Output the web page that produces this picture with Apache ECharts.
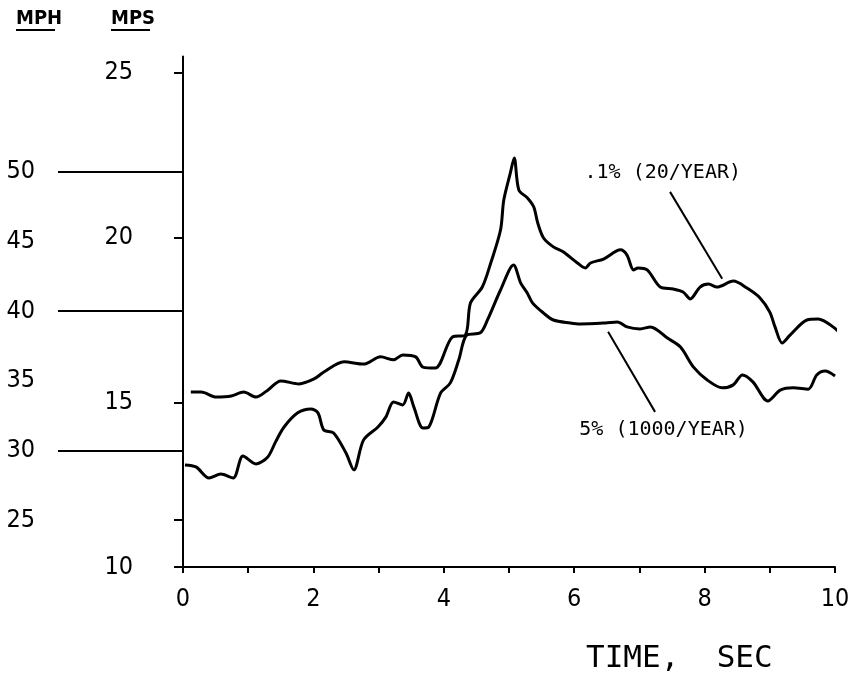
<!DOCTYPE html>
<html><head><meta charset="utf-8">
<script src="https://cdn.jsdelivr.net/npm/echarts@6/dist/echarts.min.js"></script>
<style>html,body{margin:0;padding:0;background:#fff}#c{width:855px;height:699px}</style>
</head><body><div id="c"></div>
<script>
// ---- data (time in s, wind speed in m/s) ----
const seriesNames = ['.1% (20/YEAR)', '5% (1000/YEAR)'];
const timeUpper = [0.12,0.28,0.51,0.74,0.93,1.12,1.30,1.50,1.78,2.01,2.16,2.47,2.77,3.03,3.23,3.37,3.57,3.68,3.87,4.13,4.33,4.41,4.59,4.72,4.87,4.92,5.02,5.08,5.15,5.28,5.38,5.44,5.53,5.68,5.83,6.05,6.17,6.25,6.45,6.71,6.81,6.91,6.98,7.12,7.32,7.52,7.67,7.78,7.93,8.06,8.19,8.44,8.65,8.85,9.00,9.08,9.19,9.31,9.57,9.74,9.97,10.18];
const mpsUpper = [15.31,15.31,15.16,15.19,15.31,15.16,15.37,15.65,15.56,15.71,15.92,16.23,16.16,16.38,16.29,16.44,16.38,16.07,16.04,16.98,17.04,18.02,18.50,19.23,20.23,21.14,21.96,22.42,21.45,21.21,20.93,20.45,19.99,19.72,19.57,19.23,19.08,19.23,19.35,19.63,19.47,19.02,19.08,19.02,18.50,18.44,18.35,18.14,18.50,18.59,18.50,18.68,18.47,18.17,17.74,17.29,16.80,17.04,17.50,17.53,17.29,16.89];
const timeLower = [0.03,0.20,0.40,0.58,0.77,0.92,1.12,1.30,1.42,1.55,1.76,1.96,2.07,2.16,2.31,2.50,2.62,2.77,2.99,3.11,3.23,3.37,3.46,3.54,3.68,3.77,3.95,4.10,4.23,4.35,4.56,4.67,4.87,5.07,5.18,5.28,5.36,5.53,5.68,5.94,6.09,6.48,6.66,6.81,7.01,7.17,7.43,7.63,7.83,8.04,8.27,8.44,8.58,8.74,8.97,9.16,9.36,9.59,9.72,9.85,10.0];
const mpsLower = [13.10,13.04,12.70,12.82,12.70,13.37,13.13,13.34,13.80,14.25,14.68,14.80,14.68,14.16,14.07,13.46,12.95,13.86,14.25,14.55,15.01,14.92,15.28,14.86,14.22,14.25,15.28,15.59,16.29,17.04,17.11,17.50,18.41,19.17,18.62,18.32,18.02,17.71,17.50,17.41,17.38,17.41,17.44,17.29,17.23,17.29,16.95,16.68,16.07,15.68,15.44,15.53,15.83,15.62,15.04,15.37,15.44,15.40,15.83,15.95,15.80];

// ---- tick labels ----
const xTickLabels = [0,2,4,6,8,10];
const xTickMarks = [0,1,2,3,4,5,6,7,8,9,10];
const mpsTickLabels = [10,15,20,25];
const mphTickLabels = [25,30,35,40,45,50];
const mphLongTicks = [30,40,50];
const mphShortTicks = [25];

// ---- annotation anchors (data units: [time, mps]) ----
const labelAnchors = [[6.15, 21.96], [6.07, 14.16]];
const leaderStarts = [[7.47, 21.39], [6.52, 17.14]];
const leaderEnds = [[8.27, 18.75], [7.24, 14.71]];

// MPH scale as drawn on the figure (linear relation to MPS axis)
const MPS_MIN = 10, MPS_MAX = 25.5;
const mphRef = 25, mpsAtRef = 11.427, mpsPerMph = 0.4227;
const mphToMps = m => mpsAtRef + (m - mphRef) * mpsPerMph;
const mpsToMph = s => mphRef + (s - mpsAtRef) / mpsPerMph;

const LBL = "'Liberation Sans Narrow','DejaVu Sans Condensed',sans-serif";
const MONO = "'DejaVu Sans Mono','Liberation Mono',monospace";

const chart = echarts.init(document.getElementById('c'), null, {renderer: 'canvas'});

function mkSeries(idx, times, vals) {
  return {
    name: seriesNames[idx],
    type: 'line',
    xAxisIndex: 0, yAxisIndex: 0,
    data: times.map((t, i) => [t, vals[i]]),
    showSymbol: false,
    smooth: 0.3,
    clip: false,
    lineStyle: {color: '#000', width: 3},
    itemStyle: {color: '#000'},
    silent: true,
    animation: false,
    markLine: {
      silent: true, animation: false,
      symbol: ['none', 'none'],
      label: {show: false},
      lineStyle: {color: '#000', width: 2, type: 'solid'},
      data: [[{coord: leaderStarts[idx]}, {coord: leaderEnds[idx]}]]
    },
    markPoint: {
      silent: true, animation: false,
      symbol: 'circle', symbolSize: 1,
      itemStyle: {color: 'rgba(0,0,0,0)'},
      label: {show: true, position: 'right', distance: 0, color: '#000',
              fontFamily: MONO, fontSize: 20, formatter: seriesNames[idx]},
      data: [{coord: labelAnchors[idx], value: seriesNames[idx]}]
    }
  };
}

chart.setOption({
  backgroundColor: '#fff',
  animation: false,
  grid: {left: 183, right: 20, top: 56.5, bottom: 132, containLabel: false, outerBoundsMode: 'none'},
  xAxis: {
    type: 'value', min: 0, max: 10, interval: 1,
    axisLine: {show: true, lineStyle: {color: '#000', width: 2}},
    axisTick: {show: true, length: 6, customValues: xTickMarks, lineStyle: {color: '#000', width: 2}},
    axisLabel: {customValues: xTickLabels, margin: 20, color: '#000', fontFamily: LBL, fontSize: 25},
    splitLine: {show: false}
  },
  yAxis: [
    {
      type: 'value', position: 'left', min: MPS_MIN, max: MPS_MAX,
      axisLine: {show: true, lineStyle: {color: '#000', width: 2}},
      axisTick: {show: true, length: 9, customValues: mpsTickLabels.concat(mphShortTicks.map(mphToMps)),
                 lineStyle: {color: '#000', width: 2}},
      axisLabel: {customValues: mpsTickLabels, margin: 50, color: '#000', fontFamily: LBL, fontSize: 25},
      splitLine: {show: false}
    },
    {
      type: 'value', position: 'left', offset: 0,
      min: mpsToMph(MPS_MIN), max: mpsToMph(MPS_MAX),
      axisLine: {show: false},
      axisTick: {show: true, length: 125, customValues: mphLongTicks, lineStyle: {color: '#000', width: 2}},
      axisLabel: {customValues: mphTickLabels, margin: 148, color: '#000', fontFamily: LBL, fontSize: 25},
      splitLine: {show: false}
    }
  ],
  graphic: [
    {type: 'text', left: 16, top: 9, style: {text: 'MPH', font: "bold 20px " + LBL, fill: '#000'}},
    {type: 'line', shape: {x1: 16, y1: 30, x2: 55, y2: 30}, style: {stroke: '#000', lineWidth: 2}},
    {type: 'text', left: 111, top: 9, style: {text: 'MPS', font: "bold 20px " + LBL, fill: '#000'}},
    {type: 'line', shape: {x1: 111, y1: 30, x2: 150, y2: 30}, style: {stroke: '#000', lineWidth: 2}},
    {type: 'text', left: 586, top: 643, style: {text: 'TIME,  SEC', font: "31px " + MONO, fill: '#000'}}
  ],
  series: [mkSeries(0, timeUpper, mpsUpper), mkSeries(1, timeLower, mpsLower)]
});
</script>
</body></html>
